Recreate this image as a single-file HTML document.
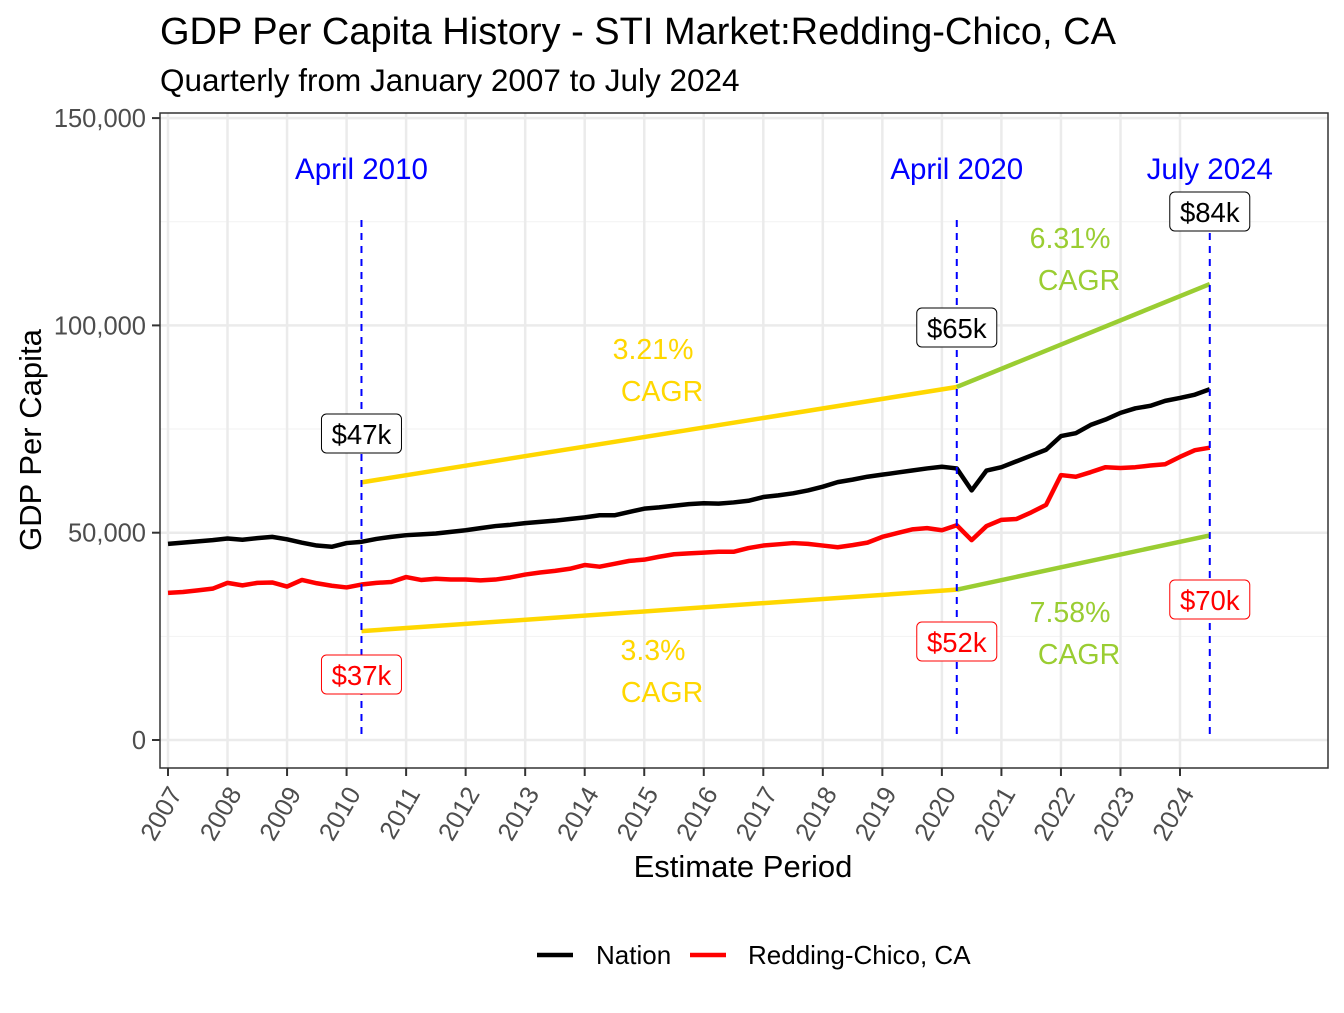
<!DOCTYPE html>
<html><head><meta charset="utf-8"><style>
body{margin:0;background:#fff;}
svg text{font-family:"Liberation Sans",Arial,sans-serif;}
</style></head><body>
<svg id="c" width="1344" height="1008" xmlns="http://www.w3.org/2000/svg">
<rect width="1344" height="1008" fill="#fff"/>
<text x="160" y="44" font-size="38" fill="#000">GDP Per Capita History - STI Market:Redding-Chico, CA</text>
<text x="160" y="91" font-size="31.5" fill="#000">Quarterly from January 2007 to July 2024</text>
<g id="grid"></g>
<g id="marks"></g>
<rect x="160" y="113" width="1168" height="655" fill="none" stroke="#333" stroke-width="1.5"/>
<g id="axes"></g>
<text x="743" y="877" font-size="31" text-anchor="middle">Estimate Period</text>
<text transform="translate(41,440) rotate(-90)" font-size="31" text-anchor="middle">GDP Per Capita</text>
<g>
<line x1="537" y1="955" x2="573" y2="955" stroke="#000" stroke-width="4.5"/>
<text x="596" y="964" font-size="26">Nation</text>
<line x1="690" y1="955" x2="726" y2="955" stroke="#f00" stroke-width="4.5"/>
<text x="748" y="964" font-size="26">Redding-Chico, CA</text>
</g>
</svg>
<script>
const years=[2007,2008,2009,2010,2011,2012,2013,2014,2015,2016,2017,2018,2019,2020,2021,2022,2023,2024];
const yTicks=[0,50000,100000,150000];
const yTickLabels=["0","50,000","100,000","150,000"];
const nation=[47.3,47.6,47.9,48.2,48.6,48.3,48.7,49.0,48.4,47.6,46.9,46.6,47.5,47.8,48.5,49.0,49.4,49.6,49.8,50.2,50.6,51.1,51.6,51.9,52.3,52.6,52.9,53.3,53.7,54.2,54.2,55.0,55.8,56.1,56.5,56.9,57.1,57.0,57.3,57.7,58.6,59.0,59.5,60.2,61.1,62.2,62.8,63.5,64.0,64.5,65.0,65.5,65.9,65.5,60.2,65.0,65.8,67.2,68.6,70.0,73.3,74.0,76.0,77.3,78.9,80.0,80.6,81.8,82.5,83.3,84.6];
const redding=[35.5,35.7,36.1,36.5,37.9,37.3,37.9,38.0,37.0,38.6,37.8,37.2,36.8,37.5,37.9,38.1,39.3,38.6,38.9,38.7,38.7,38.5,38.7,39.2,39.9,40.4,40.8,41.3,42.2,41.8,42.5,43.2,43.5,44.2,44.8,45.0,45.2,45.4,45.4,46.3,46.9,47.2,47.5,47.3,46.9,46.5,47.0,47.6,49.0,49.9,50.8,51.1,50.6,51.8,48.2,51.6,53.1,53.3,54.9,56.7,63.9,63.5,64.6,65.8,65.6,65.8,66.2,66.5,68.3,69.9,70.5];
const markIdx=[13,53,70];
const markNames=["April 2010","April 2020","July 2024"];
const nationLabels=["$47k","$65k","$84k"];
const reddingLabels=["$37k","$52k","$70k"];
const cagrTop=["3.21%","6.31%"];
const cagrBot=["3.3%","7.58%"];

const NS="http://www.w3.org/2000/svg";
const X=t=>168+(t-2007)*59.53;
const Y=v=>740-v/50000*207.3;
const qx=i=>X(2007+i/4);
const yk=v=>Y(v*1000);
function mk(tag,attrs,parent){const e=document.createElementNS(NS,tag);for(const k in attrs)e.setAttribute(k,attrs[k]);parent.appendChild(e);return e;}
const grid=document.getElementById('grid'),marks=document.getElementById('marks'),axes=document.getElementById('axes');
[25000,75000,125000].forEach(v=>{const l=mk('line',{x1:160,x2:1328,y1:Y(v),y2:Y(v),stroke:'#f2f2f2','stroke-width':1},grid);

});
yTicks.forEach((v,i)=>{const l=mk('line',{x1:160,x2:1328,y1:Y(v),y2:Y(v),stroke:'#ebebeb','stroke-width':2.5},grid);


const t=mk('line',{x1:152,x2:160,y1:Y(v),y2:Y(v),stroke:'#333','stroke-width':2},axes);


const tx=mk('text',{x:146,y:Y(v)+9,'font-size':25.5,fill:'#4d4d4d','text-anchor':'end'},axes);tx.textContent=yTickLabels[i];

});
years.forEach(y=>{const x=X(y);const l=mk('line',{x1:x,x2:x,y1:113,y2:768,stroke:'#ebebeb','stroke-width':2.5},grid);


const t=mk('line',{x1:x,x2:x,y1:768,y2:776,stroke:'#333','stroke-width':2},axes);


const tx=mk('text',{transform:`translate(${x+9},${790}) rotate(-60)`,'font-size':25.5,fill:'#4d4d4d','text-anchor':'end','dominant-baseline':'middle'},axes);tx.textContent=y;

});
function line(arr,color,name){const p=mk('polyline',{points:arr.map((v,i)=>qx(i)+','+yk(v)).join(' '),fill:'none',stroke:color,'stroke-width':4.5,'stroke-linejoin':'round'},marks);

}
function seg(i0,i1,f,arr,color,name){const s=mk('line',{x1:qx(i0),y1:yk(arr[i0]*f),x2:qx(i1),y2:yk(arr[i1]*f),stroke:color,'stroke-width':4.5},marks);

}
seg(markIdx[0],markIdx[1],1.3,nation,'#FFD700','cagr-line-upper-1');
seg(markIdx[1],markIdx[2],1.3,nation,'#9ACD32','cagr-line-upper-2');
seg(markIdx[0],markIdx[1],0.7,redding,'#FFD700','cagr-line-lower-1');
seg(markIdx[1],markIdx[2],0.7,redding,'#9ACD32','cagr-line-lower-2');
line(nation,'#000','nation-line');
line(redding,'#f00','redding-line');
const nLabY=[434,328,212],rLabY=[675,642,600];
markIdx.forEach((idx,k)=>{const x=qx(idx);
const d=mk('line',{x1:x,x2:x,y1:220,y2:740,stroke:'#00f','stroke-width':2,'stroke-dasharray':'7,6'},marks);


const t=mk('text',{x:x,y:179,'font-size':29.5,fill:'#00f','text-anchor':'middle'},marks);t.textContent=markNames[k];


[[nationLabels[k],nLabY[k],'#000'],[reddingLabels[k],rLabY[k],'#f00']].forEach(([s,yy,c],j)=>{
const r=mk('rect',{x:x-40,y:yy-20,width:80,height:39,rx:5,fill:'#fff',stroke:c,'stroke-width':1},marks);


const tt=mk('text',{x:x,y:yy+10,'font-size':27.5,fill:c,'text-anchor':'middle'},marks);tt.textContent=s;

});});
[[653,349,cagrTop[0],'#FFD700'],[1070,238,cagrTop[1],'#9ACD32'],[653,650,cagrBot[0],'#FFD700'],[1070,612,cagrBot[1],'#9ACD32']].forEach(([x,y,s,c])=>{
const a=mk('text',{x:x,y:y+10,'font-size':28.5,fill:c,'text-anchor':'middle'},marks);a.textContent=s;


const b=mk('text',{x:x+9,y:y+52,'font-size':28.5,fill:c,'text-anchor':'middle'},marks);b.textContent='CAGR';

});
</script>
</body></html>
